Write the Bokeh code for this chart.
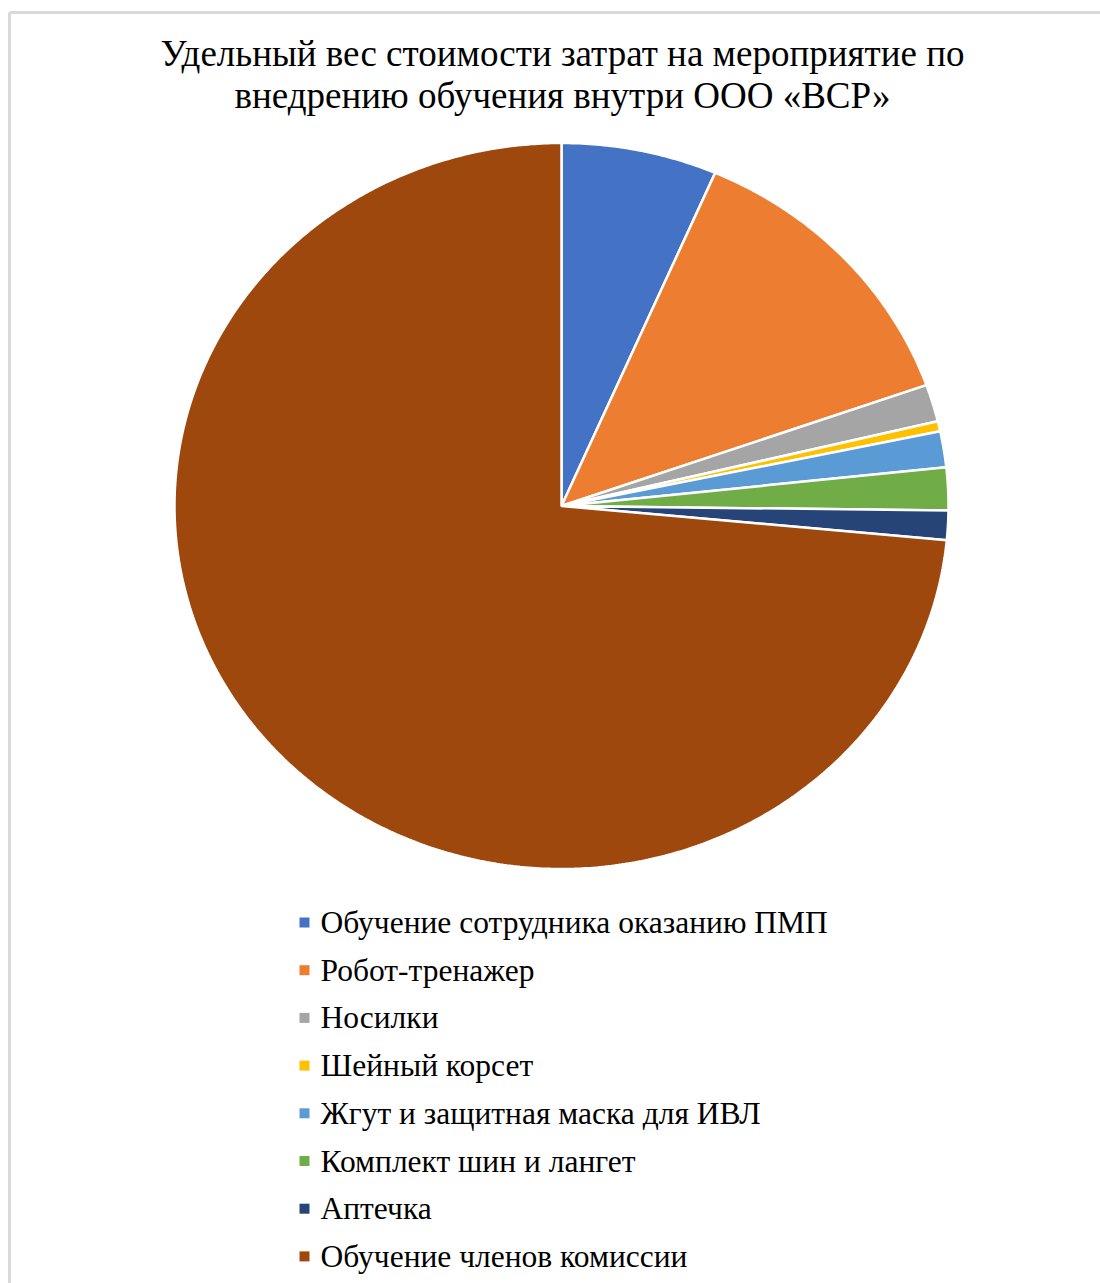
import numpy as np
from bokeh.plotting import figure
from bokeh.models import Range1d
from bokeh.core.properties import value
from bokeh.embed import file_html
from bokeh.resources import INLINE

title_lines = ["Удельный вес стоимости затрат на мероприятие по",
               "внедрению обучения внутри ООО «ВСР»"]
categories = ["Обучение сотрудника оказанию ПМП", "Робот-тренажер", "Носилки",
              "Шейный корсет", "Жгут и защитная маска для ИВЛ",
              "Комплект шин и лангет", "Аптечка", "Обучение членов комиссии"]
shares = [6.5, 13.1, 1.65, 0.45, 1.6, 1.9, 1.3, 73.5]
colors = ["#4472C4", "#ED7D31", "#A5A5A5", "#FFC000", "#5B9BD5",
          "#70AD47", "#264478", "#9E480E"]

W, H = 1100, 1283
p = figure(width=W, height=H, output_backend="svg", toolbar_location=None,
           x_range=Range1d(0, W), y_range=Range1d(H, 0),
           x_axis_location=None, y_axis_location=None,
           min_border=0, min_border_left=0, min_border_right=0,
           min_border_top=0, min_border_bottom=0)
p.outline_line_color = None
p.grid.visible = False
p.background_fill_color = "white"

# chart frame (left and top edges visible)
p.segment(x0=[9, 9], y0=[12, 12], x1=[1110, 9], y1=[12, 1300],
          line_color="#d9d9d9", line_width=3)

# title
p.text(x=[562, 562], y=[53, 95], text=title_lines,
       text_font=value("Liberation Serif"), text_font_size="37px",
       text_align="center", text_baseline="middle", text_color="#000000")

# elliptical pie
cx, cy, rx, ry = 561, 505.5, 387, 363
vals = np.array(shares, dtype=float)
cum = np.concatenate([[0], np.cumsum(vals) / vals.sum()])
xs, ys = [], []
for i in range(len(vals)):
    t = np.linspace(cum[i], cum[i + 1], max(3, int((cum[i + 1] - cum[i]) * 720)))
    th = 2 * np.pi * t
    px = list(cx + rx * np.sin(th))
    py = list(cy - ry * np.cos(th))
    xs.append([cx] + px)
    ys.append([cy] + py)
p.patches(xs=xs, ys=ys, fill_color=colors, line_color="white", line_width=2.5)

# legend
ly0, dy = 922, 47.7
ly = [ly0 + i * dy for i in range(len(categories))]
p.scatter(x=[304] * len(categories), y=ly, marker="square", size=10,
          fill_color=colors, line_color=None)
p.text(x=[320] * len(categories), y=ly, text=categories,
       text_font=value("Liberation Serif"), text_font_size="31.5px",
       text_align="left", text_baseline="middle", text_color="#000000")

open("out.html", "w").write(file_html(p, INLINE))
